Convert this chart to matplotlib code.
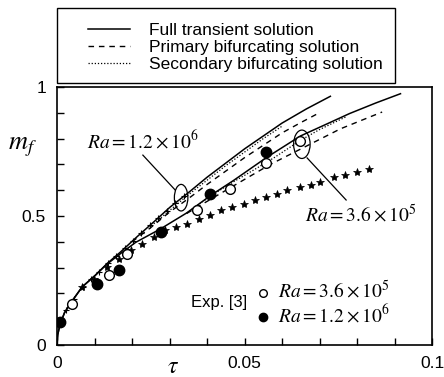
import matplotlib
matplotlib.use('Agg')
import matplotlib.pyplot as plt
from matplotlib.patches import Ellipse, Rectangle
from matplotlib.ticker import MultipleLocator

plt.rcParams['font.family'] = ['Liberation Sans', 'DejaVu Sans']
plt.rcParams['mathtext.fontset'] = 'stix'

# ---------------- data ----------------
tau_full_hi = [0, 0.0002, 0.0008, 0.002, 0.004, 0.0067, 0.0102, 0.0133, 0.0169, 0.0213,
               0.0258, 0.0302, 0.035, 0.04, 0.045, 0.05, 0.055, 0.06, 0.0665, 0.0729]
mf_full_hi = [0, 0.04, 0.08, 0.125, 0.17, 0.225, 0.27, 0.315, 0.36, 0.419,
              0.477, 0.535, 0.59, 0.65, 0.705, 0.76, 0.81, 0.86, 0.915, 0.964]

tau_full_lo = [0, 0.0002, 0.0008, 0.002, 0.004, 0.0067, 0.0102, 0.0133, 0.017, 0.021,
               0.0276, 0.0346, 0.041, 0.047, 0.0558, 0.0649, 0.072, 0.078, 0.085, 0.0916]
mf_full_lo = [0, 0.04, 0.08, 0.125, 0.17, 0.225, 0.27, 0.313, 0.355, 0.398,
              0.45, 0.512, 0.58, 0.637, 0.726, 0.81, 0.857, 0.897, 0.938, 0.974]

tau_prim_hi = [0.02, 0.025, 0.03, 0.035, 0.04, 0.045, 0.05, 0.055, 0.06, 0.065, 0.0702]
mf_prim_hi = [0.40, 0.455, 0.515, 0.567, 0.622, 0.674, 0.726, 0.774, 0.822, 0.862, 0.902]

tau_prim_lo = [0.0346, 0.0418, 0.0498, 0.0569, 0.0653, 0.0756, 0.0867]
mf_prim_lo = [0.51, 0.572, 0.64, 0.70, 0.762, 0.838, 0.903]

tau_sec_hi = [0.0258, 0.035, 0.045, 0.055, 0.06]
mf_sec_hi = [0.47, 0.582, 0.695, 0.80, 0.848]

tau_sec_lo = [0.0346, 0.041, 0.047, 0.053, 0.058, 0.0649, 0.07, 0.077]
mf_sec_lo = [0.512, 0.578, 0.632, 0.683, 0.727, 0.793, 0.835, 0.884]

tau_plus = [0.0025, 0.0045, 0.0068, 0.009, 0.0112, 0.0135, 0.0158, 0.018, 0.0202,
            0.0225, 0.0248, 0.027, 0.0292, 0.0315, 0.0338]
mf_plus = [0.137, 0.18, 0.226, 0.255, 0.283, 0.318, 0.346, 0.375, 0.404,
           0.435, 0.464, 0.493, 0.521, 0.55, 0.577]

tau_star = [0.0067, 0.0098, 0.0133, 0.0164, 0.0196, 0.0227, 0.0258, 0.0289, 0.0316,
            0.0347, 0.0378, 0.0409, 0.0436, 0.0467, 0.0498, 0.0529, 0.0556, 0.0587,
            0.0613, 0.0649, 0.0676, 0.0702, 0.0738, 0.0769, 0.0800, 0.0831]
mf_star = [0.225, 0.257, 0.302, 0.335, 0.367, 0.393, 0.419, 0.444, 0.457,
           0.470, 0.490, 0.503, 0.522, 0.535, 0.548, 0.561, 0.574, 0.587,
           0.599, 0.612, 0.619, 0.632, 0.651, 0.658, 0.671, 0.683]

tau_exp_lo = [0.0040, 0.0138, 0.0187, 0.0372, 0.0462, 0.0558, 0.0649]
mf_exp_lo = [0.160, 0.270, 0.354, 0.522, 0.603, 0.705, 0.791]

tau_exp_hi = [0.0008, 0.0107, 0.0164, 0.0276, 0.0409, 0.0558]
mf_exp_hi = [0.089, 0.238, 0.292, 0.438, 0.584, 0.748]

legend_labels = ['Full transient solution', 'Primary bifurcating solution',
                 'Secondary bifurcating solution']
label_hi = r'$Ra = 1.2\times10^6$'
label_lo = r'$Ra = 3.6\times10^5$'

# ---------------- figure ----------------
W, H = 444, 377
fig = plt.figure(figsize=(W / 100, H / 100), dpi=100)
ax = fig.add_axes([57 / W, (H - 345) / H, (432 - 57) / W, (345 - 87) / H])

lw = 1.1
l_full, = ax.plot(tau_full_hi, mf_full_hi, color='black', lw=lw, ls='-')
ax.plot(tau_full_lo, mf_full_lo, color='black', lw=lw, ls='-')
l_prim, = ax.plot(tau_prim_hi, mf_prim_hi, color='black', lw=1.0, ls=(0, (4, 3.5)))
ax.plot(tau_prim_lo, mf_prim_lo, color='black', lw=1.0, ls=(0, (4, 3.5)))
l_sec, = ax.plot(tau_sec_hi, mf_sec_hi, color='black', lw=0.9, ls=(0, (1, 1.5)))
ax.plot(tau_sec_lo, mf_sec_lo, color='black', lw=0.9, ls=(0, (1, 1.5)))

ax.plot(tau_plus, mf_plus, ls='none', marker='+', ms=4, mew=0.8, color='black')
ax.plot(tau_star, mf_star, ls='none', marker='*', ms=6, mew=0.5, color='black')

ax.plot(tau_exp_lo, mf_exp_lo, ls='none', marker='o', ms=7, mfc='white', mec='black', mew=1.0)
ax.plot(tau_exp_hi, mf_exp_hi, ls='none', marker='o', ms=7.5, mfc='black', mec='black')

# ellipses and annotations
ax.add_patch(Ellipse((0.0331, 0.571), 0.0036, 0.103, fill=False, lw=0.9, ec='black'))
ax.add_patch(Ellipse((0.0653, 0.778), 0.0044, 0.110, fill=False, lw=0.9, ec='black'))
ax.plot([0.0229, 0.0315], [0.736, 0.601], color='black', lw=0.9)
ax.plot([0.0667, 0.0771], [0.725, 0.562], color='black', lw=0.9)
ax.text(0.0229, 0.791, label_hi, fontsize=14, ha='center', va='center')
ax.text(0.0811, 0.504, label_lo, fontsize=14, ha='center', va='center')

# experimental legend
ax.text(0.0432, 0.163, 'Exp. [3]', fontsize=12, ha='center', va='center')
ax.plot([0.0549], [0.202], ls='none', marker='o', ms=5.5, mfc='white', mec='black', mew=1.0)
ax.plot([0.0549], [0.109], ls='none', marker='o', ms=6, mfc='black', mec='black')
ax.text(0.0589, 0.211, label_lo, fontsize=14, ha='left', va='center')
ax.text(0.0589, 0.116, label_hi, fontsize=14, ha='left', va='center')

ax.set_xlim(0, 0.1)
ax.set_ylim(0, 1)
ax.set_xticks([0, 0.05, 0.1])
ax.set_xticklabels(['0', '0.05', '0.1'])
ax.set_yticks([0, 0.5, 1])
ax.set_yticklabels(['0', '0.5', '1'])
ax.xaxis.set_minor_locator(MultipleLocator(0.01))
ax.yaxis.set_minor_locator(MultipleLocator(0.1))
ax.tick_params(which='both', direction='in', length=5, width=1, labelsize=12.5)
ax.tick_params(axis='x', pad=8)
ax.tick_params(axis='y', pad=8)
for s in ax.spines.values():
    s.set_linewidth(1.2)

ax.set_ylabel(r'$m_f$', fontsize=19, rotation=0, ha='center', va='center')
ax.yaxis.set_label_coords(-0.093, 0.767)
ax.set_xlabel(r'$\tau$', fontsize=17, va='center')
ax.xaxis.set_label_coords(0.309, -0.085)

# top legend box
fig.add_artist(Rectangle((57 / W, (H - 83) / H), (395 - 57) / W, (83 - 8) / H,
                         transform=fig.transFigure, fill=False, lw=1.0, ec='black'))
fig.legend([l_full, l_prim, l_sec], legend_labels, loc='upper left',
           bbox_to_anchor=(88 / W, (H - 23) / H), frameon=False, fontsize=12.5,
           handlelength=2.4, handletextpad=1.1, labelspacing=0.1,
           borderpad=0, borderaxespad=0)

fig.savefig('out.png', dpi=100)
